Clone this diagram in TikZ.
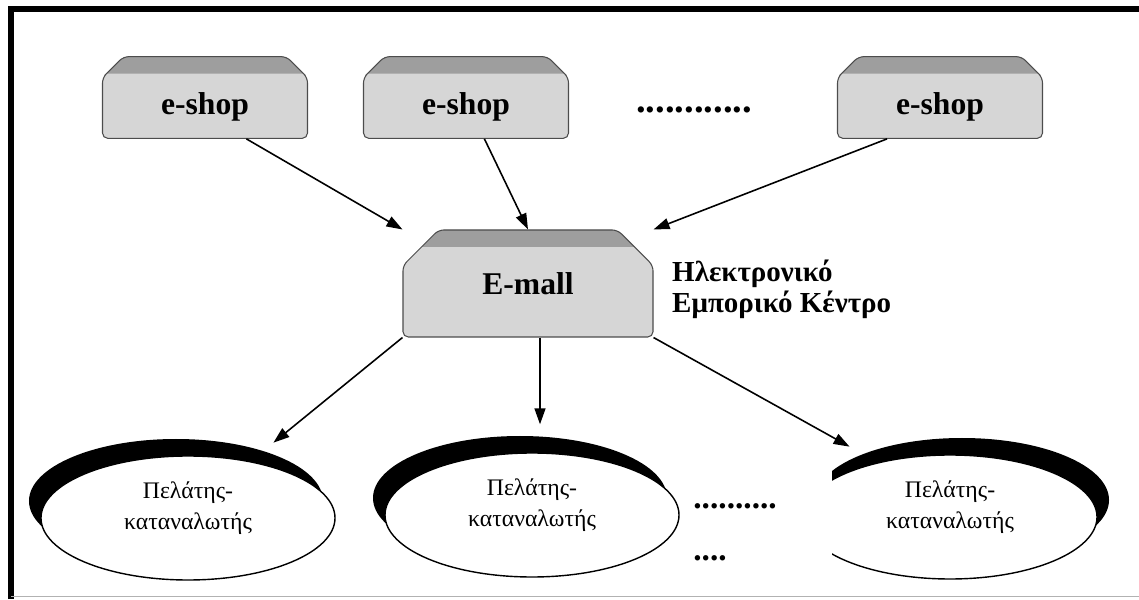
\documentclass[tikz,border=0pt]{standalone}
\usepackage{fontspec}
\setmainfont{Liberation Serif}
\usetikzlibrary{shapes.geometric,shapes.misc,arrows.meta,positioning,calc,shadows}
\definecolor{bevelgray}{gray}{0.62}
\definecolor{bodygray}{gray}{0.84}

\begin{document}
\begin{tikzpicture}[
  bevelbox/.style={chamfered rectangle,chamfered rectangle corners={north west,north east},
    draw=black!70,line width=0.6pt,fill=bodygray,rounded corners=3pt,
    font=\fontsize{18}{20}\selectfont\bfseries,
    path picture={\fill[bevelgray] (path picture bounding box.north west)
      rectangle ([yshift=-0.34cm]path picture bounding box.north east);}},
  shopbox/.style={bevelbox,minimum width=4.1cm,minimum height=1.62cm,
    chamfered rectangle xsep=0.12cm,chamfered rectangle ysep=0.3cm,
    text height=0.75cm,text depth=0.05cm},
  mallbox/.style={bevelbox,minimum width=5cm,minimum height=2.14cm,
    chamfered rectangle xsep=0.26cm,chamfered rectangle ysep=0.45cm},
  malllabel/.style={font=\fontsize{16.5}{17.6}\selectfont\bfseries,align=left},
  client/.style={ellipse,draw=black,line width=0.8pt,fill=white,
    minimum width=5.88cm,minimum height=2.48cm,align=center,
    font=\fontsize{13.5}{18}\selectfont,text depth=0.5cm,
    drop shadow={shadow xshift=#1,shadow yshift=0.34cm,fill=black,opacity=1}},
  client/.default=-0.24cm,
  dotrow/.style={font=\fontsize{#1}{24}\selectfont\bfseries,inner sep=0pt},
  arr/.style={-{Triangle[length=0.32cm,width=0.22cm]},line width=0.9pt},
]
  \useasboundingbox (0,0) rectangle (22.78,11.98);
  % frame
  \draw[line width=3.4pt] (0.22,0) -- (0.22,11.8) -- (22.78,11.8);
  \draw[gray!60,line width=0.8pt] (0.22,0.05) -- (22.78,0.05);

  % shops
  \node[shopbox] (shop1) at (4.1,10.03) {e-shop};
  \node[shopbox] (shop2) at (9.32,10.03) {e-shop};
  \node[shopbox] (shop3) at (18.8,10.03) {e-shop};
  \node[dotrow=22] (dotsT) at (13.88,9.78) {............};

  % mall
  \node[mallbox] (mall) at (10.56,6.31) {E-mall};
  \node[malllabel,right=0.25cm of mall,yshift=-0.12cm] (malltxt) {Ηλεκτρονικό\\Εμπορικό Κέντρο};

  % clients
  \node[client] (cl1) at (3.76,1.62) {Πελάτης-\\καταναλωτής};
  \node[client] (cl2) at (10.64,1.68) {Πελάτης-\\καταναλωτής};
  \begin{scope}
    \clip (16.64,0) rectangle (22.78,4);
    \node[client=0.24cm] (cl3) at (19.0,1.64) {Πελάτης-\\καταναλωτής};
  \end{scope}
  \node[dotrow=19,anchor=west] (dotsB1) at (13.86,1.86) {..........};
  \node[dotrow=19,anchor=west] (dotsB2) at ([yshift=-1.04cm]dotsB1.west) {....};

  % arrows
  \draw[arr] (shop1.-45) -- (mall.north -| mall.west);
  \draw[arr] (shop2.-66) -- (mall.north);
  \draw[arr] (shop3.-142) -- (mall.north -| mall.east);
  \draw[arr] (mall.south -| mall.west) -- ([xshift=-0.38cm,yshift=0.62cm]cl1.north east);
  \draw[arr] ([xshift=0.24cm]mall.south) -- ([xshift=0.16cm,yshift=0.56cm]cl2.north);
  \draw[arr] (mall.south -| mall.east) -- ([xshift=0.08cm,yshift=0.52cm]cl3.north west);
\end{tikzpicture}
\end{document}
